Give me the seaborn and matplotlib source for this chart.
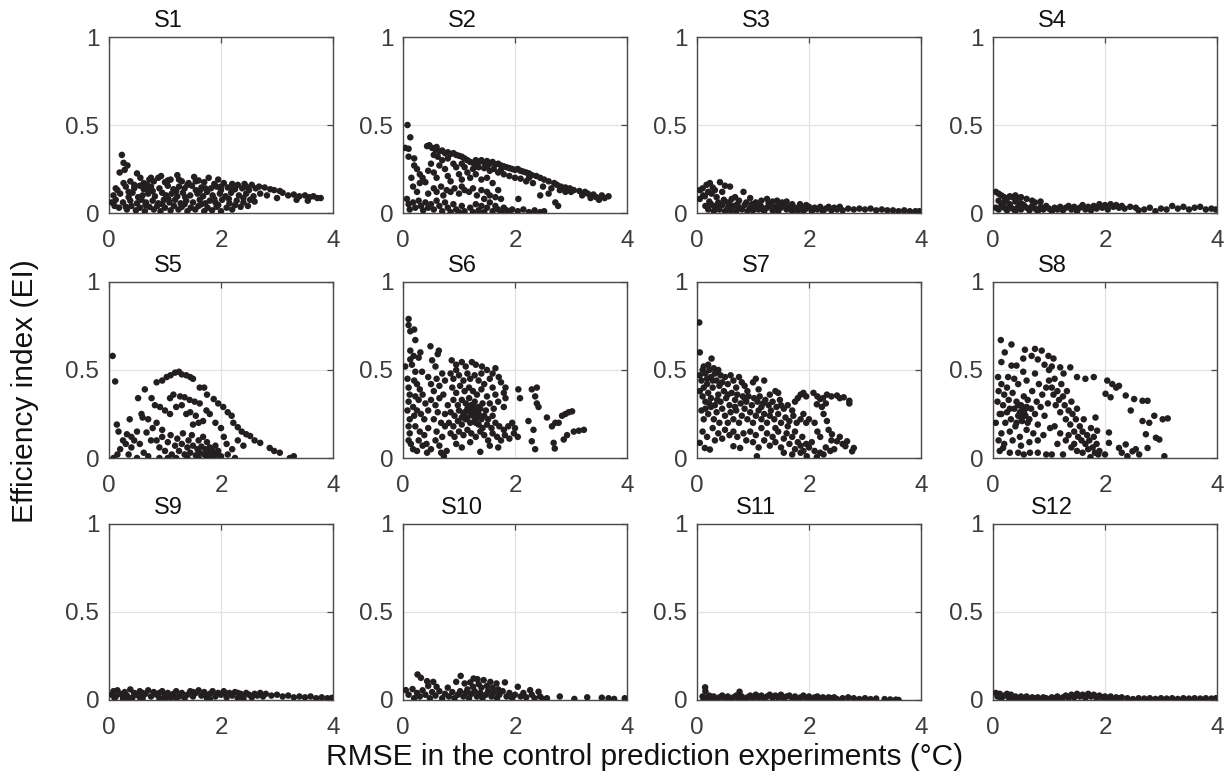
import matplotlib
matplotlib.use("Agg")
import numpy as np
import pandas as pd
import seaborn as sns
import matplotlib.pyplot as plt

# ---------------- data ----------------
panel_names = ["S1", "S2", "S3", "S4", "S5", "S6", "S7", "S8", "S9", "S10", "S11", "S12"]
x_ticks = [0, 2, 4]
y_ticks = [0, 0.5, 1]
y_tick_labels = ["0", "0.5", "1"]

s1_pts = [(0.23,0.33),(0.26,0.285),(0.33,0.27),(0.19,0.23),(0.28,0.245),(0.12,0.14),(0.5,0.225),(0.56,0.2),(0.72,0.19),(0.93,0.21),(1.22,0.215),(1.52,0.205),(1.78,0.2),(1.95,0.19),
(0.38,0.18),(0.62,0.17),(0.8,0.18),(0.88,0.2),(1.0,0.175),(1.1,0.19),(1.3,0.18),(1.42,0.17),(1.6,0.185),(1.7,0.175),(1.88,0.165),(2.05,0.17),(2.2,0.165),(2.3,0.16),(2.42,0.165),(2.55,0.16),(2.68,0.15),(2.78,0.145),
(0.15,0.13),(0.3,0.15),(0.45,0.14),(0.55,0.155),(0.68,0.135),(0.75,0.15),(0.9,0.14),(1.05,0.155),(1.15,0.135),(1.25,0.15),(1.35,0.14),(1.48,0.155),(1.55,0.13),(1.65,0.145),(1.82,0.14),(1.92,0.15),(2.0,0.13),(2.12,0.145),(2.25,0.135),(2.38,0.14),(2.5,0.13),(2.62,0.14),(2.88,0.135),(2.95,0.13),(3.05,0.125),
(0.08,0.1),(0.2,0.11),(0.35,0.09),(0.42,0.115),(0.6,0.1),(0.7,0.11),(0.82,0.095),(0.95,0.115),(1.02,0.1),(1.12,0.11),(1.22,0.095),(1.32,0.115),(1.45,0.1),(1.58,0.11),(1.68,0.095),(1.75,0.12),(1.85,0.1),(1.98,0.11),(2.08,0.095),(2.18,0.115),(2.32,0.1),(2.45,0.11),(2.58,0.095),(2.7,0.11),(2.82,0.1),(3.1,0.115),(3.2,0.1),(3.3,0.105),(3.4,0.095),(3.5,0.1),(3.58,0.09),(3.65,0.095),(3.72,0.085),(3.78,0.085),
(0.05,0.06),(0.12,0.075),(0.25,0.06),(0.38,0.07),(0.5,0.055),(0.58,0.075),(0.66,0.06),(0.78,0.07),(0.88,0.055),(0.98,0.075),(1.08,0.06),(1.18,0.075),(1.28,0.055),(1.38,0.07),(1.5,0.06),(1.62,0.075),(1.72,0.055),(1.8,0.07),(1.9,0.06),(2.02,0.075),(2.15,0.055),(2.28,0.07),(2.4,0.06),(2.52,0.075),(2.6,0.065),(3.0,0.085),(3.35,0.075),(3.55,0.07),
(0.18,0.03),(0.32,0.02),(0.4,0.04),(0.48,0.015),(0.55,0.03),(0.64,0.01),(0.72,0.035),(0.8,0.02),(0.86,0.04),(0.92,0.01),(1.0,0.03),(1.1,0.015),(1.16,0.04),(1.24,0.02),(1.3,0.035),(1.4,0.01),(1.46,0.03),(1.54,0.02),(1.6,0.04),(1.7,0.01),(1.76,0.03),(1.84,0.015),(1.92,0.035),(2.0,0.01),(2.1,0.03),(2.2,0.02),(2.35,0.035),(2.48,0.04),
(0.1,0.04),(0.3,0.035),(0.45,0.16),(0.75,0.2),(1.05,0.185),(1.25,0.19),(1.55,0.18),(2.2,0.13),(2.45,0.15),(0.65,0.045),(0.95,0.05),(1.35,0.05),(1.65,0.05),(1.95,0.045),(2.25,0.045),
(0.35,0.12),(0.52,0.09),(0.78,0.125),(1.06,0.08),(1.36,0.09),(1.62,0.125),(1.88,0.08),(2.14,0.08),(2.4,0.085),(0.62,0.135),(1.2,0.125),(1.72,0.14),(0.26,0.17),(0.68,0.16),(1.4,0.16),(2.0,0.15)]

s2_pts = [(0.08,0.5),(0.13,0.43),(0.04,0.37),(0.1,0.365),(0.1,0.32),(0.2,0.31),
(0.43,0.38),(0.47,0.385),(0.52,0.37),(0.58,0.36),(0.6,0.375),(0.65,0.35),(0.7,0.355),(0.75,0.34),(0.8,0.345),(0.85,0.335),(0.9,0.34),(0.95,0.33),(1.0,0.325),(1.05,0.32),(1.1,0.31),(1.15,0.3),(1.2,0.29),(1.25,0.285),(1.3,0.3),(1.35,0.29),(1.4,0.3),(1.45,0.285),(1.5,0.295),(1.55,0.28),(1.6,0.29),(1.65,0.275),(1.7,0.28),(1.75,0.27),(1.8,0.265),(1.85,0.26),(1.9,0.255),(1.95,0.25),(2.0,0.245),(2.05,0.25),(2.1,0.24),(2.15,0.235),(2.2,0.23),(2.25,0.225),(2.3,0.215),(2.38,0.21),(2.45,0.2),(2.52,0.19),(2.6,0.18),(2.7,0.17),(2.75,0.16),(2.82,0.15),(2.9,0.145),(2.98,0.14),(3.05,0.13),(3.15,0.125),(3.25,0.12),(3.3,0.11),(3.4,0.105),(3.45,0.09),(3.55,0.1),(3.6,0.085),(3.67,0.095),
(1.25,0.25),(1.35,0.26),(1.45,0.255),(1.55,0.24),(1.62,0.25),(1.7,0.23),(1.8,0.22),(1.9,0.21),(2.0,0.2),(2.1,0.195),(2.2,0.18),(2.32,0.17),(2.5,0.15),(2.65,0.14),(2.8,0.13),(3.0,0.12),(3.2,0.1),(3.35,0.085),(2.6,0.11),(2.72,0.06),(2.77,0.04),(2.45,0.1),(2.06,0.08),
(0.2,0.27),(0.25,0.25),(0.3,0.22),(0.35,0.2),(0.4,0.175),(0.45,0.24),(0.5,0.28),(0.55,0.23),(0.6,0.2),(0.65,0.27),(0.7,0.3),(0.75,0.25),(0.8,0.21),(0.85,0.18),(0.9,0.28),(0.95,0.26),(1.0,0.22),(1.05,0.19),(1.1,0.26),(1.15,0.23),(1.2,0.2),(1.3,0.22),(1.4,0.19),(1.5,0.2),(1.6,0.17),(0.15,0.2),(0.18,0.15),(0.25,0.12),(0.3,0.17),(0.45,0.11),(0.55,0.14),(0.6,0.12),(0.68,0.15),(0.72,0.1),(0.78,0.13),(0.85,0.12),(0.92,0.14),(1.0,0.11),(1.05,0.15),(1.1,0.13),(1.18,0.12),(1.25,0.14),(1.32,0.1),(1.4,0.13),(1.45,0.08),(1.5,0.12),(1.55,0.1),(1.65,0.09),(1.7,0.13),(1.75,0.08),
(0.07,0.08),(0.1,0.05),(0.12,0.02),(0.18,0.06),(0.22,0.03),(0.28,0.07),(0.32,0.04),(0.36,0.015),(0.4,0.06),(0.45,0.03),(0.5,0.05),(0.55,0.02),(0.6,0.07),(0.65,0.04),(0.7,0.01),(0.75,0.06),(0.8,0.03),(0.85,0.005),(0.9,0.05),(0.95,0.02),(1.0,0.005),(1.05,0.04),(1.1,0.01),(1.2,0.03),(1.25,0.005),(1.3,0.05),(1.35,0.015),(1.4,0.04),(1.45,0.005),(1.5,0.03),(1.55,0.06),(1.6,0.01),(1.65,0.04),(1.7,0.02),(1.75,0.005),(1.8,0.03),(1.85,0.015),(1.9,0.005),(1.95,0.02),(2.05,0.01),(2.15,0.02),(2.25,0.005),(2.35,0.015),(2.45,0.005),(2.52,0.01),
(0.55,0.33),(0.8,0.31),(1.05,0.28),(1.3,0.265),(1.5,0.265),(1.75,0.245),(2.25,0.2),(2.9,0.12),(3.5,0.075),(0.62,0.32)]

s3_pts = [(0.05,0.13),(0.05,0.08),(0.1,0.14),(0.11,0.1),(0.14,0.095),(0.17,0.16),(0.2,0.12),(0.23,0.17),(0.26,0.11),(0.28,0.145),(0.32,0.13),(0.35,0.09),(0.41,0.175),(0.45,0.12),(0.5,0.155),(0.55,0.06),(0.59,0.15),(0.62,0.08),(0.68,0.09),(0.75,0.07),(0.83,0.12),(0.88,0.06),(0.95,0.085),(1.05,0.06),(1.15,0.07),(1.25,0.08),(1.35,0.065),(1.43,0.07),(1.52,0.06),(1.6,0.065),(1.7,0.05),(1.84,0.05),(1.95,0.045),
(0.15,0.04),(0.2,0.02),(0.25,0.05),(0.3,0.01),(0.35,0.035),(0.4,0.02),(0.45,0.045),(0.5,0.01),(0.55,0.03),(0.6,0.015),(0.65,0.04),(0.7,0.01),(0.75,0.03),(0.8,0.02),(0.85,0.045),(0.9,0.01),(0.95,0.03),(1.0,0.015),(1.05,0.04),(1.1,0.02),(1.15,0.035),(1.2,0.01),(1.25,0.03),(1.3,0.045),(1.35,0.015),(1.4,0.035),(1.45,0.01),(1.5,0.03),(1.55,0.045),(1.6,0.02),(1.65,0.035),(1.7,0.01),(1.75,0.03),(1.8,0.015),(1.85,0.035),(1.9,0.01),(1.95,0.025),(2.0,0.035),(2.05,0.01),(2.1,0.03),(2.15,0.02),(2.2,0.035),(2.25,0.01),(2.3,0.025),(2.35,0.035),(2.4,0.015),(2.45,0.03),(2.5,0.02),(2.55,0.035),(2.6,0.015),(2.7,0.025),(2.8,0.02),(2.9,0.025),(3.0,0.02),(3.1,0.025),(3.2,0.015),(3.3,0.02),(3.4,0.015),(3.5,0.015),(3.6,0.01),(3.7,0.015),(3.8,0.01),(3.9,0.01),(3.97,0.01),
(0.22,0.065),(0.38,0.06),(0.48,0.075),(0.72,0.05),(0.98,0.05),(1.28,0.055),(0.3,0.04),(0.6,0.045),(1.12,0.045),(1.48,0.045)]

s4_pts = [(0.05,0.12),(0.1,0.11),(0.15,0.1),(0.2,0.09),(0.25,0.08),(0.3,0.095),(0.35,0.09),(0.4,0.1),(0.45,0.085),(0.5,0.09),(0.6,0.08),(0.7,0.07),(0.75,0.06),(0.85,0.065),(0.1,0.07),(0.2,0.06),(0.3,0.05),(0.4,0.065),(0.5,0.055),
(0.05,0.03),(0.1,0.02),(0.15,0.045),(0.2,0.03),(0.25,0.015),(0.3,0.04),(0.35,0.025),(0.4,0.01),(0.45,0.035),(0.5,0.02),(0.55,0.045),(0.6,0.03),(0.65,0.015),(0.7,0.04),(0.75,0.025),(0.8,0.01),(0.85,0.035),(0.9,0.02),(0.95,0.04),(1.0,0.025),(1.05,0.01),(1.1,0.03),(1.15,0.02),(1.2,0.035),(1.25,0.015),(1.3,0.03),(1.35,0.04),(1.4,0.02),(1.45,0.035),(1.5,0.01),(1.55,0.03),(1.6,0.045),(1.65,0.02),(1.7,0.035),(1.75,0.015),(1.8,0.04),(1.85,0.025),(1.9,0.05),(1.95,0.03),(2.0,0.045),(2.05,0.02),(2.1,0.05),(2.15,0.035),(2.2,0.045),(2.25,0.03),(2.3,0.04),(2.35,0.025),(2.45,0.035),(2.55,0.03),(2.6,0.015),(2.7,0.02),(2.8,0.03),(2.9,0.01),(3.0,0.025),(3.1,0.02),(3.2,0.04),(3.3,0.025),(3.4,0.035),(3.5,0.02),(3.6,0.03),(3.7,0.035),(3.8,0.02),(3.9,0.025),(3.98,0.02)]

s5_pts = [(0.065,0.58),(0.11,0.435),
(0.85,0.43),(0.95,0.44),(1.03,0.46),(1.1,0.47),(1.18,0.485),(1.25,0.49),(1.3,0.475),(1.38,0.47),(1.45,0.46),(1.5,0.45),(1.62,0.4),(1.7,0.4),(1.75,0.36),(1.87,0.335),(1.95,0.31),(2.04,0.29),(2.12,0.26),(2.19,0.24),(2.22,0.2),(2.3,0.175),(2.37,0.15),(2.45,0.135),(2.52,0.125),(2.6,0.1),(2.7,0.086),(2.87,0.057),(2.95,0.04),(3.05,0.03),(3.23,0.0),(3.3,0.01),
(0.64,0.39),(0.52,0.34),(0.37,0.22),(0.58,0.25),(0.76,0.34),(0.82,0.3),(0.91,0.29),(1.0,0.27),(1.09,0.25),(0.85,0.2),(0.14,0.19),(0.17,0.15),(0.32,0.135),(0.5,0.15),(0.67,0.145),(0.6,0.23),(0.7,0.22),(0.78,0.17),(0.95,0.16),(0.45,0.1),(0.3,0.08),(0.2,0.05),(0.25,0.1),(0.4,0.06),(0.55,0.08),(0.62,0.03),(0.75,0.1),(0.15,0.02),(0.08,0.0),(0.35,0.02),(0.5,0.0),(0.7,0.01),(0.9,0.0),(0.4,0.12),
(1.09,0.34),(1.15,0.36),(1.27,0.35),(1.35,0.345),(1.44,0.33),(1.53,0.32),(1.62,0.31),(1.74,0.27),(1.68,0.21),(1.6,0.2),(1.5,0.19),(1.38,0.25),(1.2,0.29),(1.3,0.3),(1.45,0.26),(1.55,0.24),(1.8,0.25),(1.9,0.2),(2.0,0.17),(2.05,0.12),(2.1,0.08),(2.2,0.05),(2.3,0.1),(2.4,0.07),
(0.85,0.1),(0.9,0.06),(0.95,0.12),(1.0,0.04),(1.05,0.09),(1.1,0.13),(1.12,0.02),(1.18,0.07),(1.22,0.11),(1.25,0.04),(1.3,0.08),(1.32,0.14),(1.35,0.02),(1.4,0.06),(1.42,0.1),(1.45,0.03),(1.48,0.13),(1.5,0.07),(1.55,0.015),(1.58,0.05),(1.6,0.1),(1.62,0.03),(1.65,0.065),(1.68,0.12),(1.7,0.02),(1.72,0.05),(1.75,0.09),(1.78,0.035),(1.8,0.06),(1.82,0.015),(1.85,0.04),(1.9,0.07),(1.92,0.02),(1.95,0.04),(2.0,0.01),(1.05,0.0),(1.2,0.0),(1.4,0.0),(1.6,0.0),(1.75,0.005),(1.88,0.0),(2.12,0.02),(2.25,0.0)]

s6_pts = [(0.1,0.79),(0.1,0.755),(0.13,0.72),(0.2,0.73),(0.22,0.67),(0.13,0.61),(0.19,0.58),(0.31,0.6),(0.49,0.635),(0.64,0.61),(0.62,0.59),(0.04,0.52),(0.13,0.56),(0.16,0.53),(0.22,0.49),(0.34,0.49),(0.52,0.555),(0.58,0.52),(0.28,0.57),
(0.08,0.45),(0.1,0.4),(0.12,0.36),(0.1,0.32),(0.08,0.27),(0.12,0.22),(0.1,0.18),(0.12,0.14),(0.1,0.1),(0.14,0.08),(0.18,0.05),(0.2,0.44),(0.25,0.42),(0.3,0.39),(0.22,0.35),(0.28,0.33),(0.35,0.36),(0.4,0.31),(0.18,0.29),(0.25,0.27),(0.32,0.25),(0.2,0.24),(0.38,0.22),(0.45,0.27),(0.22,0.18),(0.3,0.15),(0.28,0.1),(0.38,0.13),(0.45,0.17),(0.42,0.08),(0.5,0.05),(0.43,0.03),(0.25,0.04),(0.35,0.07),
(0.45,0.46),(0.5,0.42),(0.55,0.38),(0.6,0.45),(0.65,0.41),(0.7,0.48),(0.75,0.44),(0.5,0.33),(0.58,0.3),(0.65,0.34),(0.72,0.36),(0.55,0.22),(0.62,0.26),(0.68,0.2),(0.75,0.25),(0.8,0.3),(0.6,0.15),(0.7,0.12),(0.75,0.18),(0.58,0.1),(0.65,0.07),(0.73,0.01),(0.78,0.04),(0.68,0.03),
(0.87,0.555),(0.95,0.53),(1.05,0.545),(1.12,0.52),(1.23,0.545),(1.3,0.53),(1.41,0.52),(1.5,0.5),(1.65,0.51),(1.6,0.48),(1.71,0.46),(1.75,0.43),(1.83,0.4),(1.8,0.37),(1.83,0.34),(1.8,0.29),(0.85,0.48),(0.9,0.45),(0.95,0.5),(1.0,0.47),(1.08,0.44),(1.15,0.48),(1.2,0.45),(1.28,0.47),(1.35,0.44),(1.4,0.48),(1.45,0.42),(1.55,0.45),(1.6,0.4),(1.65,0.36),(1.7,0.32),(0.88,0.4),(0.95,0.37),(1.02,0.41),(1.1,0.38),(1.18,0.4),(1.25,0.38),(1.32,0.36),(1.4,0.39),(1.5,0.35),(1.55,0.31),(1.62,0.28),(0.9,0.33),(0.98,0.3),(1.05,0.33),(1.12,0.31),(1.18,0.34),(1.22,0.3),(1.28,0.32),(1.35,0.29),(1.42,0.31),(1.48,0.27),(0.85,0.26),(0.92,0.24),(1.0,0.27),(1.08,0.25),(1.15,0.28),(1.2,0.26),(1.25,0.24),(1.3,0.27),(1.35,0.25),(1.4,0.22),(1.45,0.24),(1.52,0.22),(1.6,0.24),(0.82,0.2),(0.9,0.18),(0.98,0.21),(1.05,0.19),(1.12,0.22),(1.2,0.2),(1.28,0.21),(1.35,0.19),(1.42,0.17),(1.5,0.19),(1.58,0.17),(1.65,0.2),(1.72,0.18),(1.8,0.16),(1.88,0.18),(1.95,0.2),(2.0,0.17),(0.85,0.14),(0.92,0.12),(1.0,0.15),(1.08,0.13),(1.15,0.16),(1.22,0.14),(1.3,0.12),(1.38,0.15),(1.45,0.13),(1.52,0.1),(1.6,0.14),(1.68,0.12),(1.75,0.1),(1.82,0.13),(1.9,0.11),(1.98,0.14),(2.05,0.12),(0.95,0.08),(1.05,0.06),(1.2,0.09),(1.38,0.035),(1.55,0.07),(1.7,0.06),
(1.15,0.23),(1.22,0.27),(1.28,0.25),(1.18,0.29),(1.25,0.3),(1.32,0.23),(1.38,0.28),(1.1,0.26),(1.05,0.23),(1.3,0.2),
(2.06,0.39),(2.09,0.34),(2.3,0.39),(2.39,0.4),(2.36,0.35),(2.39,0.31),(2.42,0.29),(2.24,0.21),(2.33,0.16),(2.3,0.095),(2.36,0.05),(2.57,0.23),(2.66,0.18),(2.72,0.2),(2.78,0.2),(2.84,0.24),(2.9,0.25),(2.96,0.26),(3.02,0.265),(2.69,0.086),(2.71,0.054),(2.87,0.105),(2.93,0.13),(3.05,0.15),(3.14,0.155),(3.23,0.16)]

s7_pts = [(0.04,0.77),(0.05,0.6),(0.26,0.565),
(0.05,0.47),(0.08,0.44),(0.1,0.5),(0.12,0.52),(0.15,0.48),(0.18,0.45),(0.2,0.53),(0.22,0.5),(0.25,0.46),(0.3,0.51),(0.32,0.48),(0.35,0.44),(0.38,0.5),(0.42,0.47),(0.45,0.43),(0.5,0.46),(0.55,0.42),(0.6,0.47),(0.65,0.44),(0.7,0.4),(0.75,0.46),(0.8,0.43),(0.85,0.41),(0.9,0.38),(1.0,0.43),(1.05,0.45),(1.2,0.44),(1.1,0.39),(1.3,0.36),(1.4,0.38),(1.45,0.37),
(0.05,0.38),(0.1,0.35),(0.12,0.4),(0.15,0.32),(0.2,0.37),(0.25,0.34),(0.28,0.4),(0.32,0.3),(0.38,0.36),(0.42,0.32),(0.48,0.38),(0.52,0.34),(0.58,0.3),(0.62,0.37),(0.68,0.33),(0.72,0.36),(0.78,0.31),(0.82,0.35),(0.88,0.32),(0.92,0.35),(0.98,0.3),(1.02,0.34),(1.08,0.32),(1.12,0.35),(1.18,0.31),(1.22,0.33),(1.28,0.3),(1.35,0.32),(1.42,0.29),(1.5,0.3),(1.55,0.28),(1.62,0.3),(1.7,0.27),(1.75,0.32),(1.8,0.34),(1.85,0.36),(1.9,0.37),(1.95,0.35),
(0.08,0.27),(0.12,0.22),(0.15,0.28),(0.2,0.25),(0.25,0.29),(0.3,0.22),(0.35,0.26),(0.4,0.2),(0.45,0.28),(0.5,0.24),(0.55,0.2),(0.6,0.26),(0.65,0.22),(0.7,0.27),(0.75,0.2),(0.8,0.24),(0.85,0.28),(0.9,0.22),(0.95,0.26),(1.0,0.2),(1.05,0.24),(1.1,0.27),(1.15,0.22),(1.2,0.25),(1.25,0.2),(1.3,0.24),(1.38,0.22),(1.45,0.25),(1.5,0.2),(1.58,0.23),(1.65,0.21),(1.72,0.24),(1.78,0.2),(1.85,0.22),(1.9,0.25),(1.95,0.2),(2.0,0.22),
(0.05,0.086),(0.1,0.15),(0.14,0.057),(0.18,0.12),(0.23,0.048),(0.28,0.17),(0.32,0.1),(0.38,0.14),(0.45,0.11),(0.5,0.16),(0.58,0.13),(0.65,0.067),(0.65,0.15),(0.72,0.12),(0.77,0.057),(0.83,0.14),(0.88,0.1),(0.95,0.15),(1.0,0.09),(1.05,0.13),(1.1,0.06),(1.15,0.17),(1.2,0.1),(1.25,0.14),(1.3,0.07),(1.35,0.12),(1.4,0.09),(1.45,0.15),(1.5,0.06),(1.55,0.11),(1.6,0.14),(1.65,0.08),(1.7,0.12),(1.75,0.05),(1.8,0.09),(1.85,0.07),(1.9,0.04),(1.95,0.08),(2.0,0.06),(2.05,0.09),(2.1,0.04),(1.07,0.01),(1.55,0.03),(1.7,0.02),(1.85,0.03),(1.96,0.01),(2.14,0.005),(2.26,0.02),(2.38,0.04),(2.2,0.03),(2.3,0.06),(2.45,0.05),
(0.18,0.42),(0.28,0.44),(0.4,0.41),(0.22,0.31),(0.36,0.33),(0.55,0.36),(0.68,0.29),(0.85,0.34),(1.15,0.29),(1.32,0.27),(1.48,0.33),(1.62,0.18),(1.75,0.15),(1.88,0.12),(1.4,0.17),
(2.08,0.37),(2.15,0.35),(2.25,0.34),(2.32,0.36),(2.4,0.35),(2.5,0.355),(2.55,0.34),(2.62,0.345),(2.72,0.325),(2.72,0.31),(2.2,0.335),(2.14,0.305),(2.23,0.29),(2.3,0.31),(2.26,0.25),(2.32,0.21),(2.35,0.16),(2.41,0.135),(2.5,0.095),(2.65,0.067),(2.77,0.038),(2.8,0.057),(2.68,0.095),(2.1,0.2),(2.15,0.15),(2.2,0.12),(2.4,0.1),(2.55,0.12),(2.6,0.08)]

s8_pts = [(0.14,0.67),(0.33,0.645),(0.21,0.6),(0.57,0.615),(0.75,0.62),(0.87,0.61),(0.99,0.58),(1.08,0.565),(0.54,0.565),(0.69,0.58),(0.15,0.545),(0.33,0.525),(0.42,0.525),(0.09,0.46),(0.27,0.46),(0.54,0.49),(0.75,0.48),(0.8,0.56),(0.92,0.53),(1.0,0.5),(1.05,0.52),(1.2,0.515),(1.38,0.515),(1.26,0.48),(1.5,0.46),(1.65,0.45),(1.8,0.46),(2.04,0.44),(2.13,0.42),(2.25,0.41),(2.37,0.355),(2.52,0.335),(2.67,0.325),(2.76,0.325),(2.46,0.27),(2.67,0.21),(2.79,0.2),(2.88,0.24),(3.03,0.22),(3.12,0.225),(2.73,0.135),(2.91,0.115),(2.97,0.105),(2.76,0.057),(2.61,0.02),(3.06,0.01),(2.01,0.365),(2.1,0.345),(1.83,0.23),(1.86,0.155),(2.07,0.145),(2.07,0.086),(2.25,0.057),(2.37,0.077),(2.49,0.038),(2.2,0.4),(2.3,0.03),(2.55,0.05),(2.4,0.01),(2.0,0.02),(1.9,0.04),
(0.05,0.2),(0.08,0.32),(0.1,0.38),(0.12,0.25),(0.15,0.14),(0.18,0.3),(0.2,0.36),(0.22,0.2),(0.25,0.26),(0.28,0.33),(0.3,0.15),(0.32,0.22),(0.35,0.37),(0.38,0.28),(0.4,0.18),(0.42,0.32),(0.45,0.24),(0.48,0.12),(0.5,0.3),(0.52,0.21),(0.55,0.27),(0.55,0.35),(0.58,0.24),(0.6,0.29),(0.6,0.16),(0.62,0.33),(0.65,0.22),(0.68,0.28),(0.7,0.38),(0.72,0.14),(0.75,0.25),(0.78,0.32),(0.8,0.19),(0.82,0.42),(0.85,0.29),(0.88,0.36),(0.9,0.13),(0.92,0.24),(0.95,0.4),(0.98,0.31),(1.0,0.44),(1.02,0.17),(0.1,0.1),(0.2,0.08),(0.35,0.1),(0.5,0.07),(0.65,0.09),(0.8,0.1),(0.45,0.42),(0.6,0.44),(0.25,0.4),(0.38,0.45),(0.15,0.42),
(0.48,0.26),(0.52,0.29),(0.56,0.25),(0.5,0.23),(0.58,0.28),(0.45,0.3),(0.62,0.2),(0.42,0.2),(0.3,0.28),(0.15,0.25),
(1.05,0.4),(1.08,0.36),(1.1,0.45),(1.12,0.3),(1.15,0.38),(1.18,0.33),(1.2,0.26),(1.22,0.42),(1.25,0.35),(1.28,0.3),(1.3,0.22),(1.32,0.38),(1.35,0.27),(1.38,0.19),(1.4,0.32),(1.42,0.25),(1.45,0.15),(1.48,0.22),(1.5,0.28),(1.52,0.12),(1.55,0.18),(1.58,0.1),(1.6,0.15),(1.62,0.22),(1.65,0.08),(1.68,0.13),(1.7,0.05),(1.72,0.1),(1.75,0.17),(1.78,0.06),(1.8,0.12),(1.82,0.03),(1.85,0.08),(1.88,0.02),(1.1,0.18),(1.2,0.14),(1.3,0.1),(1.4,0.06),(1.5,0.04),(1.6,0.03),(1.74,0.005),(1.15,0.08),(1.35,0.13),(1.45,0.08),
(0.18,0.057),(0.3,0.03),(0.45,0.03),(0.66,0.03),(1.05,0.02),(0.12,0.04),(0.55,0.02),(0.8,0.03),(0.95,0.02),(1.25,0.02)]

s9_pts = [(0.05,0.03),(0.08,0.05),(0.12,0.02),(0.15,0.055),(0.2,0.035),(0.25,0.01),(0.28,0.045),(0.32,0.025),(0.38,0.06),(0.42,0.015),(0.45,0.04),(0.5,0.03),(0.55,0.05),(0.6,0.01),(0.65,0.035),(0.7,0.055),(0.75,0.02),(0.8,0.045),(0.85,0.03),(0.9,0.01),(0.95,0.05),(1.0,0.025),(1.05,0.04),(1.1,0.015),(1.15,0.035),(1.2,0.05),(1.25,0.02),(1.3,0.04),(1.35,0.01),(1.4,0.03),(1.45,0.05),(1.5,0.02),(1.55,0.04),(1.6,0.055),(1.65,0.025),(1.7,0.045),(1.75,0.01),(1.8,0.035),(1.85,0.05),(1.9,0.02),(1.95,0.04),(2.0,0.03),(2.05,0.05),(2.1,0.015),(2.15,0.04),(2.2,0.025),(2.25,0.045),(2.3,0.01),(2.35,0.035),(2.4,0.02),(2.45,0.04),(2.5,0.03),(2.55,0.015),(2.6,0.035),(2.65,0.025),(2.7,0.04),(2.75,0.02),(2.8,0.035),(2.9,0.025),(3.0,0.03),(3.1,0.02),(3.2,0.025),(3.3,0.015),(3.4,0.02),(3.5,0.015),(3.6,0.02),(3.7,0.01),(3.8,0.015),(3.9,0.01),(3.98,0.012),
(0.1,0.01),(0.35,0.005),(0.6,0.04),(0.9,0.04),(1.2,0.01),(1.5,0.045),(1.8,0.005),(2.1,0.035),(2.4,0.005),(1.0,0.005),(0.55,0.015),(1.7,0.03),(2.3,0.04)]

s10_pts = [(0.26,0.145),(0.32,0.126),(0.43,0.107),(0.54,0.103),(0.95,0.103),(1.03,0.137),(1.1,0.094),(1.26,0.122),(1.33,0.118),(1.44,0.113),(1.56,0.103),(1.67,0.094),(1.82,0.1),(2.05,0.075),(2.27,0.056),(2.42,0.047),(2.57,0.01),(2.8,0.02),(3.06,0.006),(3.29,0.015),(3.55,0.013),(3.67,0.01),(3.77,0.006),(3.96,0.01),(1.2,0.1),(1.35,0.09),(1.5,0.08),(1.4,0.07),(1.25,0.075),(1.6,0.07),(1.7,0.06),(1.15,0.06),(0.8,0.07),(0.6,0.075),(0.45,0.08),
(0.05,0.056),(0.17,0.062),(0.1,0.03),(0.2,0.01),(0.25,0.04),(0.3,0.02),(0.35,0.055),(0.4,0.03),(0.48,0.01),(0.52,0.045),(0.58,0.025),(0.65,0.05),(0.7,0.01),(0.75,0.035),(0.82,0.02),(0.88,0.045),(0.92,0.01),(0.98,0.03),(1.02,0.05),(1.08,0.02),(1.12,0.04),(1.18,0.01),(1.22,0.035),(1.28,0.05),(1.32,0.02),(1.38,0.04),(1.42,0.01),(1.48,0.03),(1.52,0.05),(1.58,0.02),(1.62,0.04),(1.68,0.01),(1.72,0.03),(1.78,0.05),(1.85,0.02),(1.9,0.04),(1.95,0.01),(2.0,0.03),(2.1,0.02),(2.15,0.04),(2.2,0.015),(2.3,0.03),(2.35,0.01),(2.45,0.02),(2.5,0.005)]

s11_pts = [(0.145,0.072),(0.15,0.05),(0.76,0.047),(0.1,0.02),(0.12,0.005),(0.18,0.015),(0.22,0.025),(0.26,0.01),(0.3,0.02),(0.35,0.005),(0.4,0.015),(0.45,0.025),(0.5,0.01),(0.55,0.02),(0.6,0.005),(0.65,0.015),(0.7,0.025),(0.75,0.01),(0.8,0.02),(0.85,0.005),(0.9,0.015),(0.95,0.025),(1.0,0.01),(1.05,0.03),(1.1,0.015),(1.15,0.025),(1.2,0.005),(1.25,0.02),(1.3,0.03),(1.35,0.01),(1.4,0.025),(1.45,0.015),(1.5,0.03),(1.55,0.005),(1.6,0.02),(1.65,0.025),(1.7,0.01),(1.75,0.02),(1.8,0.005),(1.85,0.015),(1.9,0.025),(1.95,0.01),(2.0,0.02),(2.05,0.005),(2.1,0.015),(2.15,0.02),(2.2,0.01),(2.25,0.015),(2.3,0.005),(2.35,0.015),(2.4,0.01),(2.45,0.015),(2.5,0.005),(2.6,0.01),(2.7,0.015),(2.8,0.01),(2.9,0.005),(3.0,0.01),(3.1,0.005),(3.2,0.008),(3.35,0.005),(3.45,0.003),(3.55,0.002),(3.6,0.0)]

s12_pts = [(0.05,0.04),(0.08,0.02),(0.12,0.035),(0.15,0.01),(0.2,0.025),(0.25,0.035),(0.28,0.015),(0.32,0.03),(0.36,0.01),(0.4,0.02),(0.45,0.005),(0.5,0.02),(0.55,0.01),(0.6,0.02),(0.65,0.005),(0.7,0.015),(0.75,0.01),(0.8,0.015),(0.85,0.005),(0.9,0.015),(0.95,0.01),(1.0,0.005),(1.05,0.015),(1.1,0.01),(1.15,0.02),(1.2,0.005),(1.25,0.015),(1.3,0.025),(1.35,0.01),(1.4,0.03),(1.45,0.015),(1.5,0.035),(1.55,0.02),(1.6,0.03),(1.65,0.01),(1.7,0.035),(1.75,0.02),(1.8,0.03),(1.85,0.01),(1.9,0.025),(1.95,0.015),(2.0,0.02),(2.05,0.01),(2.1,0.02),(2.15,0.005),(2.2,0.015),(2.25,0.01),(2.3,0.015),(2.4,0.01),(2.5,0.005),(2.6,0.01),(2.7,0.008),(2.8,0.01),(2.9,0.006),(3.0,0.01),(3.1,0.008),(3.2,0.01),(3.3,0.006),(3.4,0.01),(3.5,0.008),(3.6,0.01),(3.7,0.008),(3.8,0.01),(3.9,0.008),(3.98,0.01)]

x_label = "RMSE in the control prediction experiments (\u00b0C)"
y_label = "Efficiency index (EI)"

# ---------------- build long table ----------------
all_pts = [s1_pts, s2_pts, s3_pts, s4_pts, s5_pts, s6_pts,
           s7_pts, s8_pts, s9_pts, s10_pts, s11_pts, s12_pts]
frames = []
for name, pts in zip(panel_names, all_pts):
    arr = np.asarray(pts, dtype=float)
    frames.append(pd.DataFrame({"panel": name, "x": arr[:, 0], "y": arr[:, 1]}))
df = pd.concat(frames, ignore_index=True)

# ---------------- style ----------------
sns.set_theme(style="white")
plt.rcParams['font.family'] = ['Liberation Sans', 'DejaVu Sans']

W, H = 1228, 778
fig = plt.figure(figsize=(W / 100, H / 100), dpi=100)

col_left_px = [109, 403, 697, 993]
row_top_px = [37, 282, 524]
ax_w_px, ax_h_px = 224, 176

tick_col = "#3c3c3c"
spine_col = "#4a4a4a"
dot_col = "#231f20"

for i, name in enumerate(panel_names):
    r, c = divmod(i, 4)
    left = col_left_px[c] / W
    bottom = 1 - (row_top_px[r] + ax_h_px) / H
    ax = fig.add_axes([left, bottom, ax_w_px / W, ax_h_px / H])
    sub = df[df["panel"] == name]
    sns.scatterplot(data=sub, x="x", y="y", ax=ax, s=22, color=dot_col,
                    linewidth=0, edgecolor="none", legend=False, zorder=3)
    ax.set_xlim(0, 4)
    ax.set_ylim(0, 1)
    ax.set_xticks(x_ticks)
    ax.set_xticklabels([str(v) for v in x_ticks])
    ax.set_yticks(y_ticks)
    ax.set_yticklabels(y_tick_labels)
    ax.set_xlabel("")
    ax.set_ylabel("")
    ax.grid(True, color="#e2e2e2", linewidth=0.9)
    ax.set_axisbelow(True)
    for sp in ax.spines.values():
        sp.set_color(spine_col)
        sp.set_linewidth(1.0)
    ax.tick_params(axis="both", direction="in", length=4, width=0.9,
                   colors=spine_col, labelcolor=tick_col, labelsize=17.5,
                   top=True, right=True)
    ax.tick_params(axis="x", pad=12)
    ax.tick_params(axis="y", pad=7)
    ax.set_title(name, x=0.263, pad=7, fontsize=17, color="#111111")

fig.text(645 / W, 1 - 757 / H, x_label, ha="center", va="center",
         fontsize=21.5, color="#111111")
fig.text(25 / W, 1 - 391 / H, y_label, ha="center", va="center",
         rotation=90, fontsize=21.5, color="#111111")

fig.savefig("out.png", dpi=100)
